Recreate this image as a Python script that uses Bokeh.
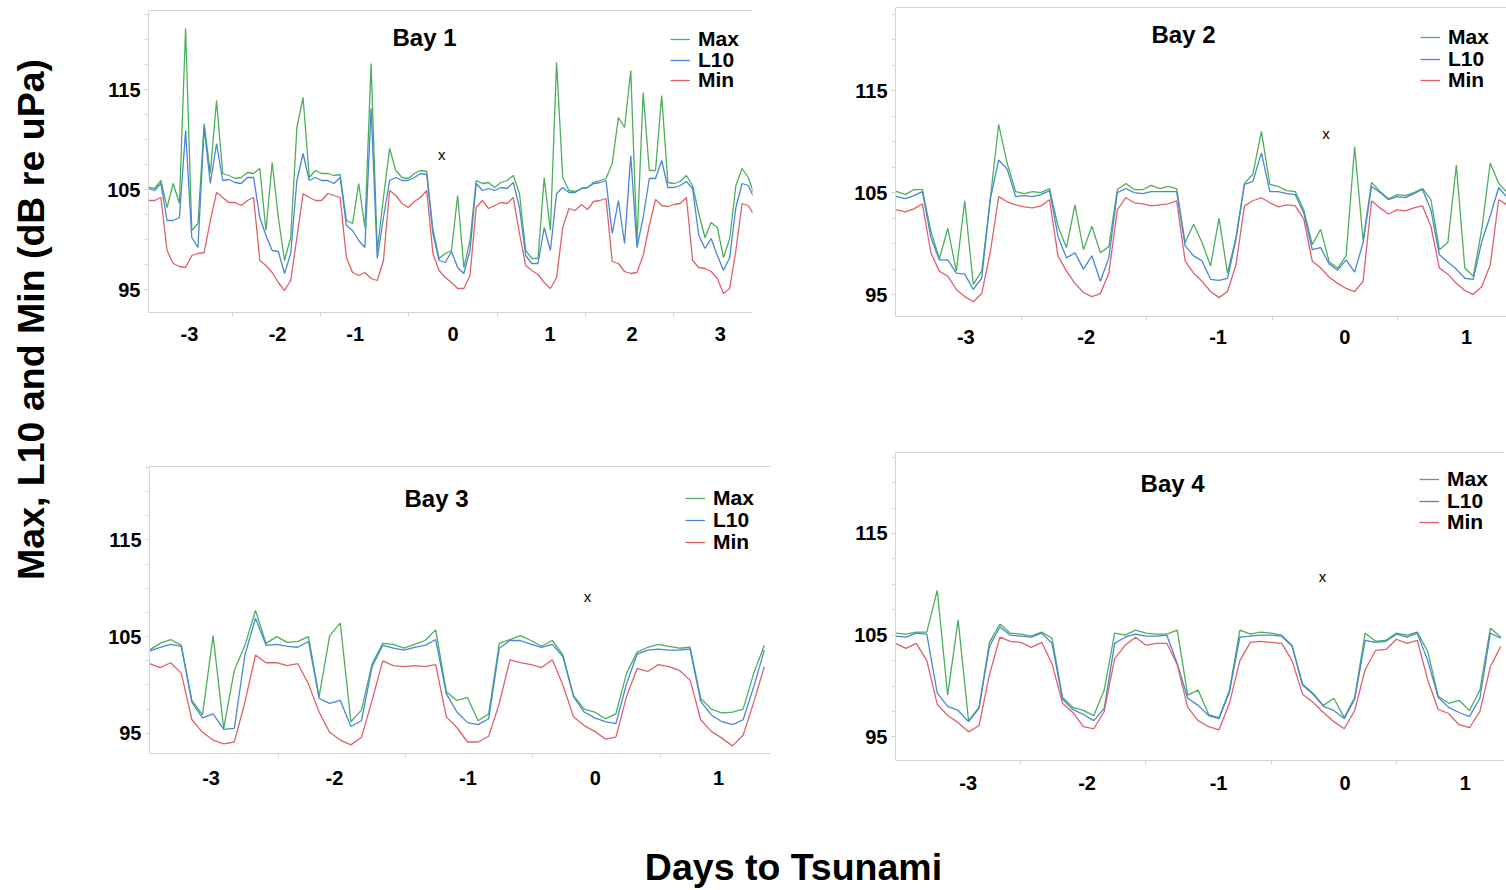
import numpy as np
from bokeh.plotting import figure
from bokeh.models import Range1d, FixedTicker, LinearAxis, Legend, LegendItem, Label
from bokeh.layouts import row, column
from bokeh.embed import file_html
from bokeh.resources import INLINE

FONT = "Liberation Sans"
C_MAX, C_L10, C_MIN = "#4caf5c", "#4a86d6", "#e0606a"
AX = "#d4d4d4"

series_names = ["Max", "L10", "Min"]

# ---------------- Bay 1 (time in days to tsunami) ----------------
bay1_t0, bay1_dt = -3.4535, 0.070102
bay1_max = [105.2, 105.1, 105.9, 103.2, 105.6, 103.6, 121.1, 100.9, 101.6, 111.6,
            106.6, 113.9, 106.6, 106.4, 106.1, 106.2, 106.7, 106.6, 107.1, 100.9,
            107.7, 102.2, 97.9, 100.2, 111.2, 114.2, 106.2, 106.9, 106.6, 106.6,
            106.4, 106.5, 101.9, 101.6, 105.6, 101.2, 117.6, 98.9, 104.2, 109.1,
            106.9, 106.2, 106.1, 106.6, 106.9, 106.8, 101.0, 98.1, 98.6,
            98.9, 104.4, 97.2, 99.9, 105.9, 105.6, 105.7, 105.2, 105.7, 105.9,
            106.4, 104.6, 98.9, 98.1, 98.1, 106.2, 100.9, 117.7, 106.2, 104.9,
            104.8, 105.1, 105.2, 105.7, 105.9, 106.1, 107.6, 112.2, 111.2, 116.9,
            99.6, 114.7, 106.9, 106.9, 114.4, 105.7, 105.6, 105.8, 106.4, 105.4,
            102.6, 100.2, 101.7, 101.2, 98.2, 100.1, 105.4, 107.1, 106.2, 104.4]
bay1_l10 = [105.1, 104.9, 105.6, 101.9, 101.9, 102.2, 110.9, 100.2, 99.2, 111.2,
            105.6, 109.6, 105.9, 106.0, 105.7, 105.6, 106.2, 106.2, 102.2, 100.4,
            98.9, 98.8, 96.6, 98.6, 105.9, 108.6, 105.9, 106.2, 105.9, 105.9,
            105.6, 106.2, 101.4, 100.9, 99.9, 99.2, 113.1, 98.1, 102.2, 105.9,
            106.2, 105.9, 105.9, 106.2, 106.6, 106.5, 100.6, 97.9, 97.7,
            98.8, 97.2, 96.6, 98.9, 105.6, 104.9, 105.1, 104.9, 105.2, 105.1,
            105.7, 103.2, 98.4, 97.6, 97.6, 101.2, 98.9, 104.6, 105.2, 104.7,
            104.7, 105.1, 105.2, 105.6, 105.7, 105.9, 100.6, 103.9, 99.6, 108.4,
            99.2, 102.2, 106.1, 106.1, 107.9, 105.2, 105.2, 105.4, 105.8, 105.1,
            100.4, 99.1, 100.1, 98.4, 96.9, 98.2, 103.2, 105.6, 105.4, 104.1]
bay1_min = [103.9, 103.9, 104.2, 98.9, 97.6, 97.3, 97.2, 98.4, 98.6, 98.7,
            101.9, 104.7, 104.2, 103.7, 103.7, 103.4, 103.9, 104.2, 97.9, 97.4,
            96.7, 95.7, 94.9, 95.9, 100.2, 104.6, 104.2, 103.9, 103.9, 104.6,
            104.4, 104.2, 98.2, 96.7, 96.4, 96.7, 96.1, 95.9, 97.9, 104.9,
            104.4, 103.6, 103.2, 103.8, 104.2, 104.9, 98.6, 96.9, 96.2,
            95.7, 95.1, 95.1, 96.4, 103.2, 103.9, 103.1, 103.4, 103.7, 103.6,
            104.2, 100.6, 97.4, 96.9, 96.5, 95.7, 95.1, 96.2, 101.2, 103.1,
            102.9, 103.5, 103.0, 103.8, 103.9, 104.1, 97.8, 97.6, 96.8, 96.6,
            96.7, 98.4, 101.4, 104.0, 103.4, 103.3, 103.5, 103.6, 104.2, 97.9,
            97.2, 97.1, 96.8, 96.1, 94.6, 95.1, 98.9, 103.6, 103.4, 102.4]

# ---------------- Bay 2 ----------------
bay2_t0, bay2_dt = -3.5558, 0.06753
bay2_max = [105.3, 105.1, 104.8, 105.3, 105.3, 101.2, 98.5, 101.5, 97.3, 104.2,
            96.0, 97.3, 104.3, 111.7, 107.9, 105.1, 104.9, 105.1, 105.0, 105.4,
            101.7, 99.6, 103.8, 99.4, 101.7, 99.1, 99.7, 105.3, 105.9, 105.3,
            105.3, 105.7, 105.4, 105.6, 105.4, 100.1, 101.9,
            100.1, 97.8, 102.5, 97.1, 100.6, 105.9, 106.8, 111.0, 105.8, 105.6,
            105.2, 105.1, 103.3, 99.9, 101.4, 98.2, 97.6, 98.8, 109.5, 100.3,
            106.0, 105.1, 104.4, 104.8, 104.7, 105.0, 105.4, 104.3, 99.4, 100.1,
            107.7, 97.6, 96.8, 101.4, 107.9, 105.9, 105.0]
bay2_l10 = [104.6, 104.6, 104.4, 104.7, 105.1, 100.6, 98.4, 98.4, 97.1, 97.0,
            95.5, 96.6, 104.3, 108.2, 107.3, 104.6, 104.7, 104.6, 104.8, 105.2,
            100.7, 98.6, 99.1, 97.5, 98.8, 96.3, 98.6, 105.0, 105.4, 105.0,
            104.9, 105.1, 105.1, 105.1, 105.1, 99.8, 98.8,
            98.3, 96.5, 96.4, 96.6, 100.4, 105.8, 106.1, 108.9, 105.1, 105.1,
            104.9, 104.8, 103.0, 99.4, 99.6, 98.0, 97.4, 98.4, 97.2, 100.1,
            105.6, 105.0, 104.3, 104.6, 104.5, 104.9, 105.3, 103.3, 98.9, 98.2,
            97.5, 96.6, 96.5, 100.2, 102.7, 105.5, 104.5]
bay2_min = [103.3, 103.3, 103.1, 103.4, 103.9, 99.1, 97.3, 96.8, 95.5, 94.8,
            94.3, 95.1, 99.1, 104.6, 104.1, 103.8, 103.6, 103.5, 103.7, 104.3,
            98.8, 97.3, 96.1, 95.2, 94.8, 95.1, 97.1, 103.3, 104.5, 104.0,
            103.9, 103.7, 103.8, 103.9, 104.2, 98.3, 97.1,
            96.3, 95.3, 94.7, 95.3, 97.9, 103.7, 104.2, 104.5, 104.0, 103.6,
            103.8, 103.7, 102.4, 98.3, 97.6, 96.7, 96.1, 95.6, 95.3, 96.3,
            104.2, 103.5, 102.9, 103.3, 103.2, 103.5, 103.7, 101.7, 97.6, 97.0,
            96.1, 95.4, 95.0, 95.8, 97.9, 104.3, 103.8]

# ---------------- Bay 3 ----------------
bay3_t0, bay3_dt = -3.514, 1.0 / 12
bay3_max = [103.6, 104.3, 104.7, 104.1, 98.4, 96.9, 105.1, 95.5, 101.5, 104.1,
            107.7, 104.3, 105.0, 104.4, 104.5, 105.0, 98.8, 105.1, 106.4, 96.2,
            97.4, 102.2, 104.3, 104.2, 103.8, 104.2, 104.6, 105.7, 99.3, 98.4,
            98.7, 96.3, 97.0, 104.3, 104.7, 105.1, 104.6, 104.0, 104.6, 103.1,
            98.9, 97.5, 97.2, 96.5, 97.0, 101.2, 103.4, 103.9, 104.2, 104.0,
            103.8, 103.9, 98.6, 97.5, 97.1, 97.2, 97.5, 101.2, 104.1]
bay3_l10 = [103.5, 103.9, 104.2, 104.0, 98.2, 96.6, 97.0, 95.4, 95.5, 103.1,
            106.9, 104.1, 104.2, 104.0, 103.9, 104.5, 98.6, 98.1, 98.4, 95.7,
            96.3, 101.9, 104.1, 103.8, 103.6, 103.9, 104.1, 104.7, 99.1, 97.2,
            96.1, 95.9, 96.5, 103.8, 104.6, 104.6, 104.2, 103.9, 104.2, 102.9,
            98.8, 97.2, 96.6, 96.2, 96.0, 100.1, 103.2, 103.6, 103.7, 103.6,
            103.6, 103.7, 98.3, 96.9, 96.2, 95.9, 96.4, 99.8, 103.6]
bay3_min = [102.2, 101.8, 102.3, 101.2, 96.4, 95.1, 94.3, 93.9, 94.1, 98.2,
            103.1, 102.3, 102.3, 102.0, 102.2, 100.1, 97.2, 95.1, 94.3, 93.8,
            94.6, 98.4, 102.5, 102.0, 101.9, 102.0, 101.9, 102.1, 96.7, 95.6,
            94.1, 94.1, 94.7, 98.1, 102.6, 102.3, 102.1, 101.8, 102.6, 100.0,
            96.7, 95.8, 95.2, 94.4, 94.6, 98.8, 101.7, 101.4, 102.1, 101.9,
            101.5, 100.5, 96.4, 95.2, 94.5, 93.7, 94.8, 98.2, 101.9]

# ---------------- Bay 4 ----------------
bay4_t0, bay4_dt = -3.5, 1.0 / 12
bay4_max = [105.2, 105.1, 105.3, 105.3, 109.4, 99.1, 106.5, 96.6, 97.9, 104.3,
            106.1, 105.2, 105.1, 104.9, 105.3, 104.7, 98.9, 97.9, 97.6, 97.1,
            99.6, 105.2, 105.0, 105.5, 105.2, 105.1, 105.1, 105.5, 99.1, 99.6,
            97.2, 96.9, 99.6, 105.5, 105.1, 105.3, 105.2, 105.0, 104.0, 100.2,
            99.3, 98.1, 98.8, 96.9, 98.9, 105.2, 104.4, 104.5, 105.2, 105.0,
            105.3, 103.4, 99.0, 98.3, 98.6, 97.6, 99.6, 105.7, 104.8]
bay4_l10 = [104.9, 104.8, 105.2, 105.1, 99.3, 98.0, 97.6, 96.5, 97.8, 103.9,
            105.8, 105.0, 104.9, 104.8, 105.2, 104.2, 98.7, 97.7, 97.2, 96.6,
            97.8, 104.2, 104.8, 105.1, 104.9, 104.9, 105.0, 102.2, 98.8, 98.1,
            97.1, 96.8, 99.4, 104.8, 104.9, 105.0, 105.0, 104.9, 103.9, 100.1,
            99.2, 98.0, 97.6, 96.8, 98.7, 104.5, 104.3, 104.4, 105.1, 104.8,
            105.2, 102.5, 98.9, 97.9, 97.4, 97.0, 98.8, 105.2, 104.7]
bay4_min = [104.2, 103.7, 104.2, 102.5, 98.2, 97.1, 96.4, 95.5, 96.1, 101.1,
            104.8, 104.4, 104.3, 103.8, 104.3, 102.2, 98.3, 97.4, 96.0, 95.8,
            97.5, 102.7, 104.0, 104.8, 104.0, 104.2, 104.2, 102.1, 97.9, 96.6,
            96.0, 95.7, 98.3, 102.5, 104.3, 104.4, 104.3, 104.2, 102.5, 99.2,
            98.4, 97.4, 96.5, 95.8, 97.6, 101.6, 103.5, 103.6, 104.6, 104.2,
            104.5, 100.6, 97.7, 97.3, 96.2, 95.9, 97.5, 101.9, 103.9]

# tick labels (days to tsunami) and where they sit
bay1_xtick_pos = [-2.99, -1.99, -1.11, 0.0, 1.1, 2.03, 3.03]
bay1_xtick_lab = ["-3", "-2", "-1", "0", "1", "2", "3"]
bay2_xtick_pos = [-2.94, -1.98, -0.93, 0.08, 1.05]
bay3_xtick_pos = [-3.03, -2.06, -1.01, -0.01, 0.96]
bay4_xtick_pos = [-2.92, -1.97, -0.92, 0.09, 1.05]
short_xtick_lab = ["-3", "-2", "-1", "0", "1"]
day_bounds_7 = [-2.5, -1.5, -0.5, 0.5, 1.5, 2.5]
day_bounds_5 = [-2.5, -1.5, -0.5, 0.5]
ytick_major = [95, 105, 115]
ytick_minor = [92.5, 95, 97.5, 100, 102.5, 105, 107.5, 110, 112.5, 115, 117.5, 120, 122.5]

# tsunami "x" markers (days, dB)
mark_x = [-0.13, -0.07, -0.07, -0.09]
mark_y = [108.5, 110.8, 109.1, 110.8]


def panel(name, t0, dt, vmax, vl10, vmin, xr, yr, xpos, xlab, xminor,
          w, h, bl, br, bt, bb, title_xy, mark, xstand, leg_x, leg_ys):
    p = figure(width=w, height=h, x_range=Range1d(*xr), y_range=Range1d(*yr),
               output_backend="svg", toolbar_location=None,
               min_border_left=bl, min_border_right=br,
               min_border_top=bt, min_border_bottom=bb)
    p.outline_line_color = None
    p.grid.grid_line_color = None
    p.background_fill_color = "white"
    t = t0 + dt * np.arange(len(vmax))
    r_max = p.line(t, vmax, line_color=C_MAX, line_width=1.3)
    r_l10 = p.line(t, vl10, line_color=C_L10, line_width=1.3)
    r_min = p.line(t, vmin, line_color=C_MIN, line_width=1.3)

    xa = p.xaxis[0]
    xa.ticker = FixedTicker(ticks=xpos, minor_ticks=xminor)
    xa.major_label_overrides = {pv: lb for pv, lb in zip(xpos, xlab)}
    xa.major_tick_line_color = None
    xa.major_tick_out = 0
    xa.minor_tick_line_color = AX
    xa.minor_tick_out = 4
    xa.minor_tick_in = 0
    xa.axis_line_color = AX
    xa.major_label_standoff = xstand

    ya = p.yaxis[0]
    ya.ticker = FixedTicker(ticks=ytick_major, minor_ticks=ytick_minor)
    ya.major_tick_line_color = AX
    ya.major_tick_out = 4
    ya.major_tick_in = 0
    ya.minor_tick_line_color = AX
    ya.minor_tick_out = 4
    ya.minor_tick_in = 0
    ya.axis_line_color = AX
    ya.major_label_standoff = 4

    for ax in (xa, ya):
        ax.major_label_text_font = FONT
        ax.major_label_text_font_style = "bold"
        ax.major_label_text_font_size = "20px"
        ax.major_label_text_color = "black"

    top = LinearAxis(ticker=FixedTicker(ticks=[]), axis_line_color=AX,
                     major_tick_out=0, minor_tick_out=0,
                     major_tick_line_color=None, minor_tick_line_color=None)
    p.add_layout(top, "above")

    p.add_layout(Label(x=title_xy[0], y=title_xy[1], text=name, text_font=FONT,
                       text_font_style="bold", text_font_size="24px",
                       text_color="black",
                       text_align="center", text_baseline="middle"))
    p.add_layout(Label(x=mark[0], y=mark[1], text="x", text_font=FONT,
                       text_font_size="15px", text_color="black", text_align="center",
                       text_baseline="middle"))

    # one legend box per series so the rows sit at the reference spacing
    for nm, rr, ly in zip(series_names, (r_max, r_l10, r_min), leg_ys):
        leg = Legend(items=[LegendItem(label=nm, renderers=[rr])],
                     location=(leg_x, ly), margin=0, padding=0, spacing=0,
                     glyph_width=20, glyph_height=20, label_height=20, label_standoff=8,
                     label_text_font=FONT, label_text_font_style="bold",
                     label_text_font_size="21px", label_text_color="black",
                     border_line_color=None, background_fill_alpha=0)
        p.add_layout(leg)
    return p


p1 = panel("Bay 1", bay1_t0, bay1_dt, bay1_max, bay1_l10, bay1_min,
           (-3.4535, 3.3946), (92.7, 122.9), bay1_xtick_pos, bay1_xtick_lab, day_bounds_7,
           770, 400, 88, 78, 10, 88, (-0.324, 120.2), (mark_x[0], mark_y[0]), 10,
           522, (260.7, 240.2, 219.7))
p2 = panel("Bay 2", bay2_t0, bay2_dt, bay2_max, bay2_l10, bay2_min,
           (-3.5, 1.3685), (92.85, 123.15), bay2_xtick_pos, short_xtick_lab, day_bounds_5,
           676, 400, 65, 0, 7, 84, (-1.205, 120.5), (mark_x[1], mark_y[1]), 9,
           525, (267.5, 245.0, 224.2))
p3 = panel("Bay 3", bay3_t0, bay3_dt, bay3_max, bay3_l10, bay3_min,
           (-3.514, 1.368), (92.91, 122.6), bay3_xtick_pos, short_xtick_lab, day_bounds_5,
           770, 420, 89, 60, 66, 67, (-1.258, 119.33), (mark_x[2], mark_y[2]), 13,
           536, (243.0, 221.2, 199.5))
p4 = panel("Bay 4", bay4_t0, bay4_dt, bay4_max, bay4_l10, bay4_min,
           (-3.5, 1.355), (92.68, 122.96), bay4_xtick_pos, short_xtick_lab, day_bounds_5,
           676, 420, 65, 3, 52, 60, (-1.287, 119.88), (mark_x[3], mark_y[3]), 11,
           524, (269.0, 247.2, 226.5))


def blank(w, h):
    f = figure(width=w, height=h, x_range=Range1d(0, 1), y_range=Range1d(0, 1),
               output_backend="svg", toolbar_location=None, min_border=0,
               x_axis_location=None, y_axis_location=None)
    f.outline_line_color = None
    f.xgrid.grid_line_color = None
    f.ygrid.grid_line_color = None
    return f


yt = blank(60, 890)
yt.add_layout(Label(x=0.5, y=0.6416, text="Max, L10 and Min (dB re uPa)", angle=90,
                    angle_units="deg", text_font=FONT, text_font_style="bold",
                    text_font_size="37.5px", text_color="black",
                    text_align="center", text_baseline="middle"))
xt = blank(1446, 70)
xt.add_layout(Label(x=0.5069, y=0.3286, text="Days to Tsunami", text_font=FONT,
                    text_font_style="bold", text_font_size="37.5px", text_color="black",
                    text_align="center", text_baseline="middle"))

layout = row(yt, column(row(p1, column(p2)), row(p3, column(p4)), xt))

open("out.html", "w").write(file_html(layout, INLINE))
